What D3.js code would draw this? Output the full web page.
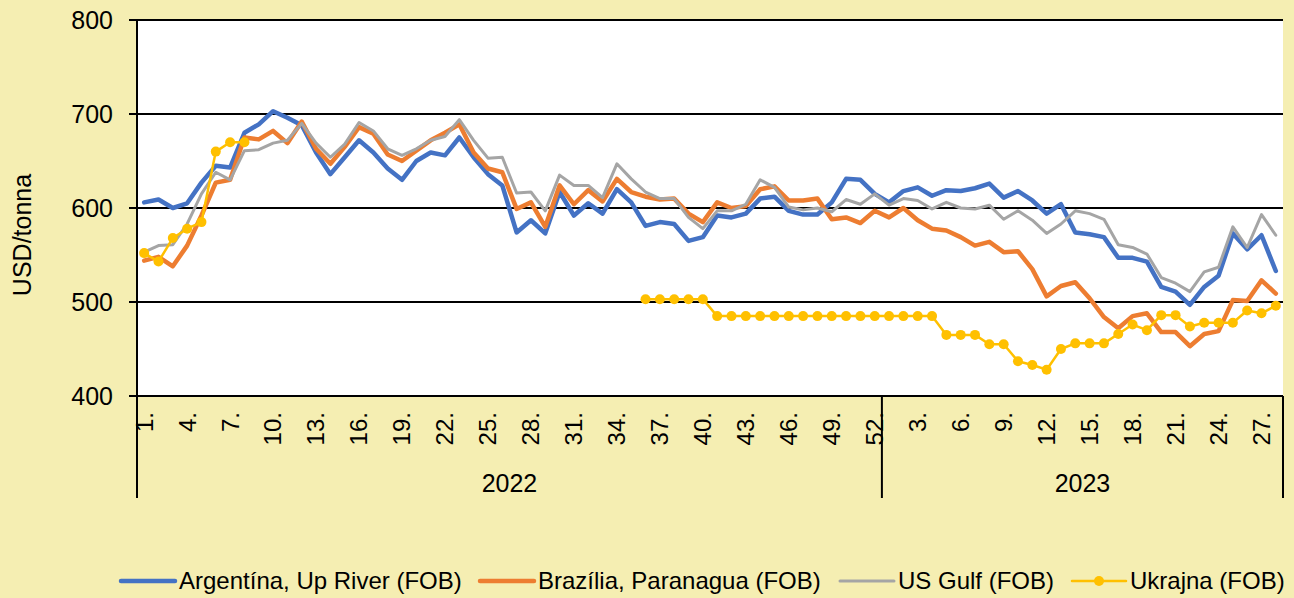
<!DOCTYPE html>
<html>
<head>
<meta charset="utf-8">
<script src="https://cdn.jsdelivr.net/npm/d3@7"></script>
<style>
  html, body { margin: 0; padding: 0; background: #F5EEB2; }
  svg { display: block; font-family: "Liberation Sans", Arial, sans-serif; }
</style>
</head>
<body>
<svg width="1294" height="598"></svg>
<script>
// Weekly categories: 2022 weeks 1-52, 2023 weeks 1-28
const years = ["2022", "2023"];
const weeksPerYear = [52, 28];

const argentina = [
    606, 609, 600, 605, 627, 645, 643, 680, 689, 703, 696, 688, 659, 636, 654, 672, 659, 642, 630, 650, 659, 656, 675, 654, 636, 624,
    574, 587, 573, 617, 592, 605, 594, 620, 606, 581, 585, 583, 565, 569, 592, 590, 594, 610, 612, 597, 593, 593, 606, 631, 630, 615,
    606, 618, 622, 613, 619, 618, 621, 626, 611, 618, 608, 594, 604, 574, 572, 569, 547, 547, 543, 516, 511, 497, 516, 528, 573, 556, 571, 533
];
const brazil = [
    544, 548, 538, 560, 592, 627, 630, 675, 673, 682, 669, 692, 663, 647, 665, 686, 679, 657, 650, 661, 672, 680, 689, 659, 642, 638,
    599, 606, 580, 624, 604, 619, 607, 631, 617, 612, 609, 610, 594, 585, 606, 600, 602, 620, 623, 608, 608, 610, 588, 590, 584, 597,
    590, 600, 587, 578, 576, 569, 560, 564, 553, 554, 535, 506, 517, 521, 504, 484, 472, 485, 488, 468, 468, 453, 466, 469, 502, 501, 523, 509
];
const usGulf = [
    553, 560, 561, 583, 615, 638, 630, 661, 662, 669, 672, 690, 669, 654, 668, 691, 682, 663, 656, 663, 672, 676, 694, 672, 653, 654,
    616, 617, 597, 635, 624, 624, 611, 647, 631, 617, 610, 610, 590, 578, 597, 597, 604, 630, 622, 601, 598, 600, 596, 609, 604, 615,
    603, 610, 608, 599, 606, 600, 599, 603, 588, 597, 587, 573, 583, 597, 594, 588, 561, 558, 551, 526, 520, 511, 532, 537, 580, 558, 593, 571
];
const ukraine = [
    552, 543, 568, 578, 585, 660, 670, 670, null, null, null, null, null, null, null, null, null, null, null, null, null, null, null, null, null, null,
    null, null, null, null, null, null, null, null, null, 503, 503, 503, 503, 503, 485, 485, 485, 485, 485, 485, 485, 485, 485, 485, 485, 485,
    485, 485, 485, 485, 465, 465, 465, 455, 455, 437, 433, 428, 450, 456, 456, 456, 466, 476, 470, 486, 486, 474, 478, 478, 478, 491, 488, 496
];

const yTicks = [400, 500, 600, 700, 800];

const seriesList = [
    { name: "Argentína, Up River (FOB)", values: argentina, color: "#4472C4", width: 4.5, marker: false },
    { name: "Brazília, Paranagua (FOB)", values: brazil, color: "#ED7D31", width: 4.5, marker: false },
    { name: "US Gulf (FOB)", values: usGulf, color: "#A5A5A5", width: 3, marker: false },
    { name: "Ukrajna (FOB)", values: ukraine, color: "#FFC000", width: 2.5, marker: true }
];

// build category list
const categories = [];
years.forEach((yr, yi) => {
    d3.range(1, weeksPerYear[yi] + 1).forEach(w => categories.push({ year: yr, week: w, key: yr + "-" + w }));
});

const svg = d3.select("svg");
const plotLeft = 137, plotRight = 1283, plotTop = 20, plotBottom = 396;

const x = d3.scaleBand()
    .domain(categories.map(d => d.key))
    .range([plotLeft, plotRight])
    .paddingInner(0).paddingOuter(0);
const cx = k => x(k) + x.bandwidth() / 2;

const y = d3.scaleLinear().domain([400, 800]).range([plotBottom, plotTop]);

// plot area
svg.append("rect")
    .attr("x", plotLeft).attr("y", plotTop)
    .attr("width", plotRight - plotLeft).attr("height", plotBottom - plotTop)
    .attr("fill", "#ffffff");

// gridlines
svg.append("g")
    .selectAll("line")
    .data(yTicks)
    .enter().append("line")
    .attr("x1", plotLeft - 8).attr("x2", plotRight)
    .attr("y1", d => y(d)).attr("y2", d => y(d))
    .attr("stroke", "#000").attr("stroke-width", 2);

// y labels
svg.append("g")
    .selectAll("text")
    .data(yTicks)
    .enter().append("text")
    .attr("x", 113)
    .attr("y", d => y(d))
    .attr("dy", "0.35em")
    .attr("text-anchor", "end")
    .attr("font-size", 25)
    .text(d => d);

// y title
svg.append("text")
    .attr("transform", "translate(31,235) rotate(-90)")
    .attr("text-anchor", "middle")
    .attr("font-size", 25)
    .text("USD/tonna");

// left axis + year separators
const sepX = [plotLeft, x(years[1] + "-1"), plotRight];
svg.append("line")
    .attr("x1", plotLeft).attr("x2", plotLeft)
    .attr("y1", plotTop).attr("y2", 498)
    .attr("stroke", "#000").attr("stroke-width", 2);
svg.append("g")
    .selectAll("line")
    .data(sepX.slice(1))
    .enter().append("line")
    .attr("x1", d => d).attr("x2", d => d)
    .attr("y1", plotBottom).attr("y2", 498)
    .attr("stroke", "#000").attr("stroke-width", 2);

// category labels, every 3rd
svg.append("g")
    .selectAll("text")
    .data(categories.filter((d, i) => i % 3 === 0))
    .enter().append("text")
    .attr("transform", d => "translate(" + cx(d.key) + ",412) rotate(-90)")
    .attr("dy", "0.35em")
    .attr("text-anchor", "end")
    .attr("font-size", 24)
    .text(d => d.week + ".");

// year labels
svg.append("g")
    .selectAll("text")
    .data(years)
    .enter().append("text")
    .attr("x", (d, i) => (sepX[i] + sepX[i + 1]) / 2)
    .attr("y", 492)
    .attr("text-anchor", "middle")
    .attr("font-size", 25)
    .text(d => d);

// series lines
const line = d3.line()
    .defined(d => d.v !== null)
    .x(d => cx(d.key))
    .y(d => y(d.v));

seriesList.forEach(s => {
    const pts = categories.map((c, i) => ({ key: c.key, v: s.values[i] }));
    svg.append("path")
        .datum(pts)
        .attr("fill", "none")
        .attr("stroke", s.color)
        .attr("stroke-width", s.width)
        .attr("stroke-linejoin", "round")
        .attr("stroke-linecap", "round")
        .attr("d", line);
    if (s.marker) {
        svg.append("g")
            .selectAll("circle")
            .data(pts.filter(p => p.v !== null))
            .enter().append("circle")
            .attr("cx", p => cx(p.key))
            .attr("cy", p => y(p.v))
            .attr("r", 5)
            .attr("fill", s.color);
    }
});

// legend
const legendX = [121, 480, 840, 1072];
const legend = svg.selectAll(".legend")
    .data(seriesList)
    .enter().append("g")
    .attr("class", "legend")
    .attr("transform", (d, i) => "translate(" + legendX[i] + ",581)");

legend.append("line")
    .attr("x1", 0).attr("x2", 54)
    .attr("stroke", d => d.color)
    .attr("stroke-width", d => d.width)
    .attr("stroke-linecap", "round");

legend.filter(d => d.marker).append("circle")
    .attr("cx", 27).attr("r", 5)
    .attr("fill", d => d.color);

legend.append("text")
    .attr("x", 58)
    .attr("dy", "0.35em")
    .attr("font-size", 24)
    .text(d => d.name);
</script>
</body>
</html>
